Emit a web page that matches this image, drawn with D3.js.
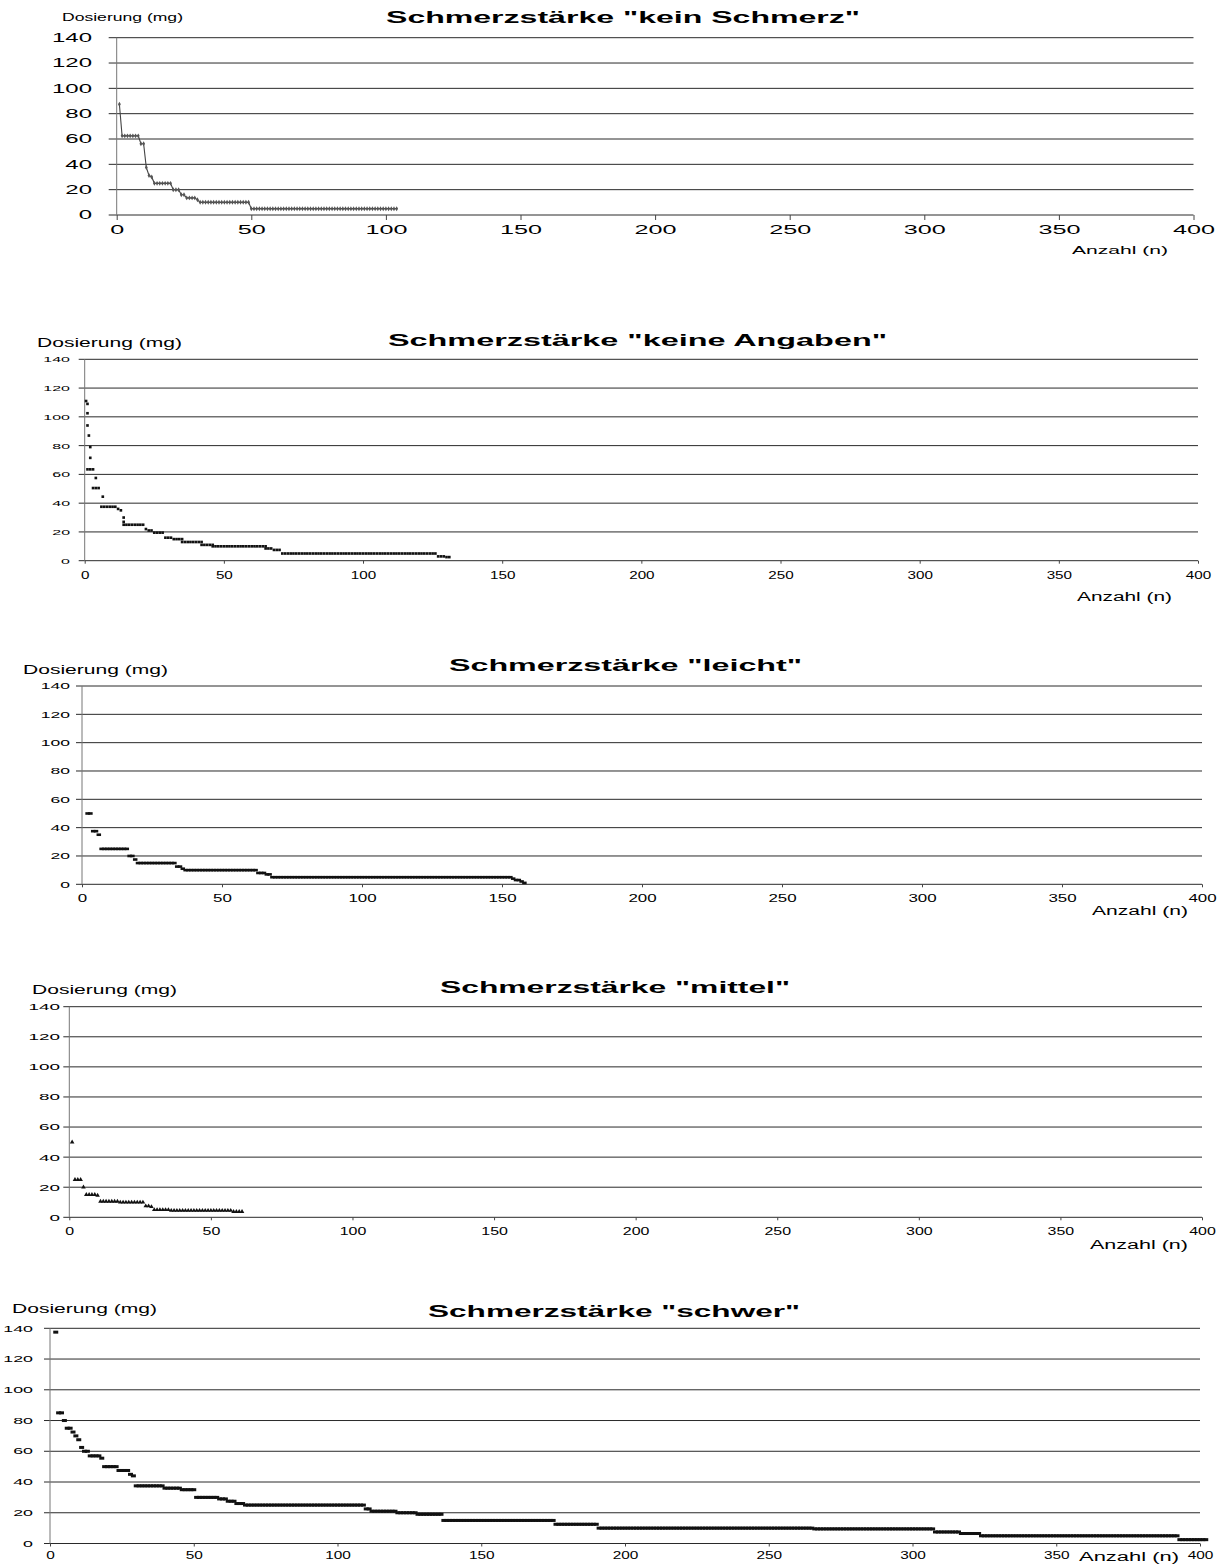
<!DOCTYPE html>
<html>
<head>
<meta charset="utf-8">
<script src="https://cdnjs.cloudflare.com/ajax/libs/d3/7.8.5/d3.min.js"></script>
<style>
  body { margin: 0; background: #fff; }
  svg text { font-family: "Liberation Sans", Arial, sans-serif; fill: #000; }
</style>
</head>
<body>
<div id="container-id-1"></div>
<script>
console.log('drawing dose panels');

// shared ticks and labels
/////////////////////
var x_ticks = [0, 50, 100, 150, 200, 250, 300, 350, 400];
var y_ticks = [0, 20, 40, 60, 80, 100, 120, 140];

var titles = [
  'Schmerzstärke "kein Schmerz"',
  'Schmerzstärke "keine Angaben"',
  'Schmerzstärke "leicht"',
  'Schmerzstärke "mittel"',
  'Schmerzstärke "schwer"'
];
var y_label = 'Dosierung (mg)';
var x_label = 'Anzahl (n)';

/////////////////////
var kein_schmerz = [
  [1, 1, 87.5], [2, 8, 62.5], [9, 10, 56.25], [11, 11, 37.5], [12, 12, 31.25],
  [13, 13, 30], [14, 20, 25], [21, 23, 20], [24, 25, 16], [26, 29, 13.5],
  [30, 30, 12], [31, 49, 10], [50, 104, 5]
];

var keine_angaben = [
  [0.5, 0.5, 111], [1, 1, 109], [1, 1, 102.5], [1, 1, 94], [1.5, 1.5, 87],
  [2, 2, 79], [2, 2, 71.5], [1, 3, 63.5], [4, 4, 57.5], [3, 5, 50.5],
  [6.5, 6.5, 44.5], [6, 11, 37.5], [12, 12, 36], [13, 13, 35], [14, 14, 30],
  [14, 14, 27], [14, 21, 25], [22, 22, 22], [23, 24, 21], [25, 28, 19.5],
  [29, 31, 16], [32, 35, 15], [35, 42, 13], [42, 46, 11], [46, 65, 10],
  [65, 67, 8.5], [68, 70, 7.5], [71, 126, 5], [127, 129, 3], [130, 131, 2.5]
];

var leicht = [
  [2, 3, 50], [4, 5, 37.5], [6, 6, 35], [7, 16, 25], [17, 18, 20],
  [19, 19, 17.5], [20, 33, 15], [34, 35, 12.5], [36, 36, 11], [37, 62, 10],
  [63, 65, 8], [66, 67, 7], [68, 153, 5], [154, 154, 4], [155, 156, 3],
  [157, 157, 2], [158, 158, 1]
];

var mittel = [
  [1, 1, 50], [2, 4, 25], [5, 5, 20], [6, 9, 15], [10, 10, 14.5],
  [11, 17, 10.5], [18, 26, 10], [27, 28, 7.5], [29, 29, 7], [30, 35, 5],
  [36, 57, 4.5], [58, 61, 3.75]
];

var schwer = [
  [2, 2, 137.5], [3, 4, 85], [5, 5, 80], [6, 7, 75], [8, 8, 72.5],
  [9, 9, 70], [10, 10, 67.5], [11, 11, 62.5], [12, 13, 60], [14, 17, 57],
  [18, 18, 55.5], [19, 23, 50], [24, 27, 47.5], [28, 28, 45], [29, 29, 44],
  [30, 39, 37.5], [40, 45, 36], [46, 50, 35], [51, 58, 30], [59, 61, 29],
  [62, 64, 27.5], [65, 67, 26], [68, 109, 25], [110, 111, 22.5], [112, 120, 21],
  [121, 127, 20], [128, 136, 19], [137, 175, 15], [176, 190, 12.5], [191, 265, 10],
  [266, 307, 9.5], [308, 316, 7.5], [317, 323, 6.5], [324, 392, 5], [393, 402, 2.5]
];

// panel layout (the scanned charts are stretched sideways, hence sx)
/////////////////////
var panels = [
  { title: titles[0], runs: kein_schmerz, mark: 'line',
    left: 116.7, right: 1193.5, top: 37.7, bottom: 215,
    title_box: [386, 860, 23.3],
    ylab_box: [62, 183, 20.7, 11], xlab_box: [1072, 1168, 254, 11],
    ytick: { size: 12, sx: 2.0, right: 92, len: 8 },
    xtick: { size: 12, sx: 2.1, top: 10, len: 5 } },
  { title: titles[1], runs: keine_angaben, mark: 'square',
    left: 84.7, right: 1198, top: 359.3, bottom: 560.7,
    title_box: [388, 887, 346],
    ylab_box: [37, 182, 347.3, 13], xlab_box: [1077, 1172, 601, 12],
    ytick: { size: 8, sx: 2.0, right: 70, len: 6 },
    xtick: { size: 10.5, sx: 1.45, top: 11, len: 3 } },
  { title: titles[2], runs: leicht, mark: 'dash',
    left: 82, right: 1202, top: 686, bottom: 884.3,
    title_box: [449, 802, 671],
    ylab_box: [23, 168, 674, 13], xlab_box: [1092, 1188, 915, 12],
    ytick: { size: 9, sx: 1.95, right: 70, len: 6 },
    xtick: { size: 11.5, sx: 1.47, top: 10, len: 3 } },
  { title: titles[3], runs: mittel, mark: 'triangle',
    left: 69.3, right: 1202, top: 1006.7, bottom: 1217.3,
    title_box: [440, 790, 993],
    ylab_box: [32, 177, 994, 13], xlab_box: [1090, 1188, 1249, 12],
    ytick: { size: 9, sx: 2.1, right: 60, len: 6 },
    xtick: { size: 11, sx: 1.45, top: 10, len: 3 } },
  { title: titles[4], runs: schwer, mark: 'dash_thick',
    left: 50, right: 1200, top: 1328.3, bottom: 1543.5,
    title_box: [428, 800, 1316.7],
    ylab_box: [12, 157, 1313, 13], xlab_box: [1079, 1179, 1561, 12],
    ytick: { size: 8.5, sx: 2.1, right: 33, len: 6 },
    xtick: { size: 11, sx: 1.4, top: 8, len: 3 } }
];

function expand_runs(runs){
  var points = [];
  runs.forEach(function(r){
    for (var n = r[0]; n <= r[1]; n++){
      points.push({ n: n, dose: r[2] });
    }
  });
  return points;
}

// make svg
////////////////////
var svg_width = 1226;
var svg_height = 1568;

var main_svg = d3.select('#container-id-1')
  .append('svg')
  .attr('width', svg_width)
  .attr('height', svg_height);

main_svg.append('rect')
  .attr('width', svg_width)
  .attr('height', svg_height)
  .attr('fill', '#fff');

function stretched_text(g, txt, box, size, bold){
  g.append('text')
    .attr('x', box[0])
    .attr('y', box[2])
    .attr('font-size', size)
    .attr('font-weight', bold ? 'bold' : 'normal')
    .attr('textLength', box[1] - box[0])
    .attr('lengthAdjust', 'spacingAndGlyphs')
    .text(txt);
}

function draw_panel(p){

  var g = main_svg.append('g');

  var x = d3.scaleLinear().domain([0, 400]).range([p.left, p.right]);
  var y = d3.scaleLinear().domain([0, 140]).range([p.bottom, p.top]);

  // gridlines (run a little left of the axis as tick marks)
  g.append('g')
    .selectAll('line')
    .data(y_ticks)
    .enter()
    .append('line')
    .attr('x1', p.left - p.ytick.len)
    .attr('x2', p.right)
    .attr('y1', function(d){ return y(d); })
    .attr('y2', function(d){ return y(d); })
    .attr('stroke', '#2a2a2a')
    .attr('stroke-width', 1);

  // vertical axis line
  g.append('line')
    .attr('x1', p.left).attr('x2', p.left)
    .attr('y1', p.top).attr('y2', p.bottom)
    .attr('stroke', '#777')
    .attr('stroke-width', 1);

  // y axis labels
  var y_axis = g.append('g')
    .attr('transform', 'translate(' + p.left + ',0)')
    .call(d3.axisLeft(y)
      .tickValues(y_ticks)
      .tickSize(0)
      .tickPadding(p.left - p.ytick.right));
  y_axis.select('.domain').remove();
  y_axis.attr('font-size', p.ytick.size).attr('font-family', null);
  y_axis.selectAll('text')
    .attr('x', (p.ytick.right - p.left) / p.ytick.sx)
    .attr('transform', 'scale(' + p.ytick.sx + ',1)');

  // x axis
  var x_axis = g.append('g')
    .attr('transform', 'translate(0,' + p.bottom + ')')
    .call(d3.axisBottom(x)
      .tickValues(x_ticks)
      .tickSize(p.xtick.len)
      .tickPadding(p.xtick.top - p.xtick.len));
  x_axis.select('.domain').remove();
  x_axis.attr('font-size', p.xtick.size).attr('font-family', null);
  x_axis.selectAll('line').attr('stroke', '#444');
  x_axis.selectAll('text')
    .attr('x', 0)
    .attr('transform', 'scale(' + p.xtick.sx + ',1)');

  // titles and axis names
  stretched_text(g, p.title, p.title_box, 16, true);
  stretched_text(g, y_label, p.ylab_box, p.ylab_box[3], false);
  stretched_text(g, x_label, p.xlab_box, p.xlab_box[3], false);

  // data marks
  var points = expand_runs(p.runs);
  var marks = g.append('g');

  if (p.mark === 'line'){
    marks.append('path')
      .datum(points)
      .attr('fill', 'none')
      .attr('stroke', '#444')
      .attr('stroke-width', 1.1)
      .attr('d', d3.line()
        .x(function(d){ return x(d.n); })
        .y(function(d){ return y(d.dose); }));
    marks.selectAll('path.pt')
      .data(points)
      .enter()
      .append('path')
      .classed('pt', true)
      .attr('transform', function(d){ return 'translate(' + x(d.n) + ',' + y(d.dose) + ')'; })
      .attr('d', d3.symbol().type(d3.symbolDiamond).size(7))
      .attr('fill', '#555');
  } else if (p.mark === 'square' || p.mark === 'triangle'){
    var sym = p.mark === 'square'
      ? d3.symbol().type(d3.symbolSquare).size(7)
      : d3.symbol().type(d3.symbolTriangle).size(9);
    marks.selectAll('path.pt')
      .data(points)
      .enter()
      .append('path')
      .classed('pt', true)
      .attr('transform', function(d){ return 'translate(' + x(d.n) + ',' + y(d.dose) + ')'; })
      .attr('d', sym)
      .attr('fill', '#111');
  } else {
    var w = p.mark === 'dash' ? 4.5 : 5;
    var h = p.mark === 'dash' ? 2.6 : 3;
    marks.selectAll('rect')
      .data(points)
      .enter()
      .append('rect')
      .attr('x', function(d){ return x(d.n) - w / 2; })
      .attr('y', function(d){ return y(d.dose) - h / 2; })
      .attr('width', w)
      .attr('height', h)
      .attr('fill', '#111');
  }
}

panels.forEach(draw_panel);
</script>
</body>
</html>
